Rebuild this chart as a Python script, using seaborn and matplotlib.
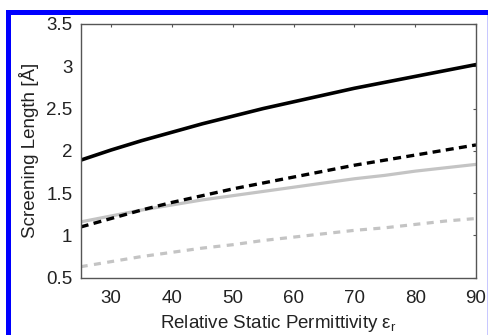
import numpy as np
import pandas as pd
import matplotlib
matplotlib.use("Agg")
import matplotlib.pyplot as plt
import seaborn as sns
from matplotlib.patches import Rectangle

# Data
eps_r = [25, 30, 35, 40, 45, 50, 55, 60, 65, 70, 75, 80, 85, 90]
solid_black = [1.89, 2.01, 2.12, 2.22, 2.32, 2.41, 2.50, 2.58, 2.66, 2.74, 2.81, 2.88, 2.95, 3.02]
dashed_black = [1.10, 1.20, 1.30, 1.39, 1.47, 1.55, 1.62, 1.69, 1.76, 1.83, 1.89, 1.95, 2.01, 2.07]
solid_gray = [1.16, 1.23, 1.30, 1.36, 1.42, 1.47, 1.52, 1.57, 1.62, 1.67, 1.71, 1.76, 1.80, 1.84]
dashed_gray = [0.63, 0.69, 0.75, 0.80, 0.85, 0.89, 0.94, 0.98, 1.02, 1.06, 1.09, 1.13, 1.17, 1.20]

x_ticks = [30, 40, 50, 60, 70, 80, 90]
y_ticks = [0.5, 1, 1.5, 2, 2.5, 3, 3.5]
y_ticklabels = ["0.5", "1", "1.5", "2", "2.5", "3", "3.5"]

sns.set_style("white")
plt.rcParams['font.family'] = ['Liberation Sans', 'DejaVu Sans']
plt.rcParams['mathtext.fontset'] = 'custom'
plt.rcParams['mathtext.rm'] = 'Liberation Sans'
plt.rcParams['mathtext.it'] = 'Liberation Sans'

fig = plt.figure(figsize=(4.89, 3.35), dpi=100)
ax = fig.add_axes([80.7 / 489, 1 - 277.7 / 335, (476 - 80.7) / 489, (277.7 - 24) / 335])

df = pd.DataFrame({"eps": eps_r, "sb": solid_black, "db": dashed_black,
                   "sg": solid_gray, "dg": dashed_gray})

gray = "#c4c4c4"
sns.lineplot(data=df, x="eps", y="sg", ax=ax, color=gray, lw=2.3)
sns.lineplot(data=df, x="eps", y="dg", ax=ax, color=gray, lw=2.3,
             linestyle=(0, (2.2, 2.0)))
sns.lineplot(data=df, x="eps", y="db", ax=ax, color="black", lw=2.4,
             linestyle=(0, (2.4, 1.6)))
sns.lineplot(data=df, x="eps", y="sb", ax=ax, color="black", lw=2.6)

ax.set_xlim(25, 90)
ax.set_ylim(0.5, 3.5)
ax.set_xticks(x_ticks)
ax.set_yticks(y_ticks)
ax.set_yticklabels(y_ticklabels)
ax.tick_params(axis='both', direction='in', length=2.5, width=0.8, color='#555555',
               labelsize=13.5, top=True, right=True, labelcolor='#222222')
ax.tick_params(axis='x', pad=8.5)
ax.tick_params(axis='y', pad=6)
for s in ax.spines.values():
    s.set_color('#555555')
    s.set_linewidth(1.0)

ax.set_xlabel(r"Relative Static Permittivity ε$_\mathregular{r}$", fontsize=13.5,
              color='#222222', labelpad=5)
ax.set_ylabel("Screening Length [Å]", fontsize=13.5, color='#222222', labelpad=5)

# Blue frame
W, H = 489, 335
fig.patches.append(Rectangle((6 / W, 0), 5 / W, (H - 9.5) / H, transform=fig.transFigure,
                             facecolor='#0000ff', edgecolor='none'))
fig.patches.append(Rectangle((6 / W, (H - 15) / H), (W - 6) / W, 5.5 / H,
                             transform=fig.transFigure, facecolor='#0000ff', edgecolor='none'))
fig.patches.append(Rectangle((487.5 / W, 0), 1.5 / W, (H - 15) / H, transform=fig.transFigure,
                             facecolor='#c8c8ff', edgecolor='none'))

fig.savefig("out.png", dpi=100)
